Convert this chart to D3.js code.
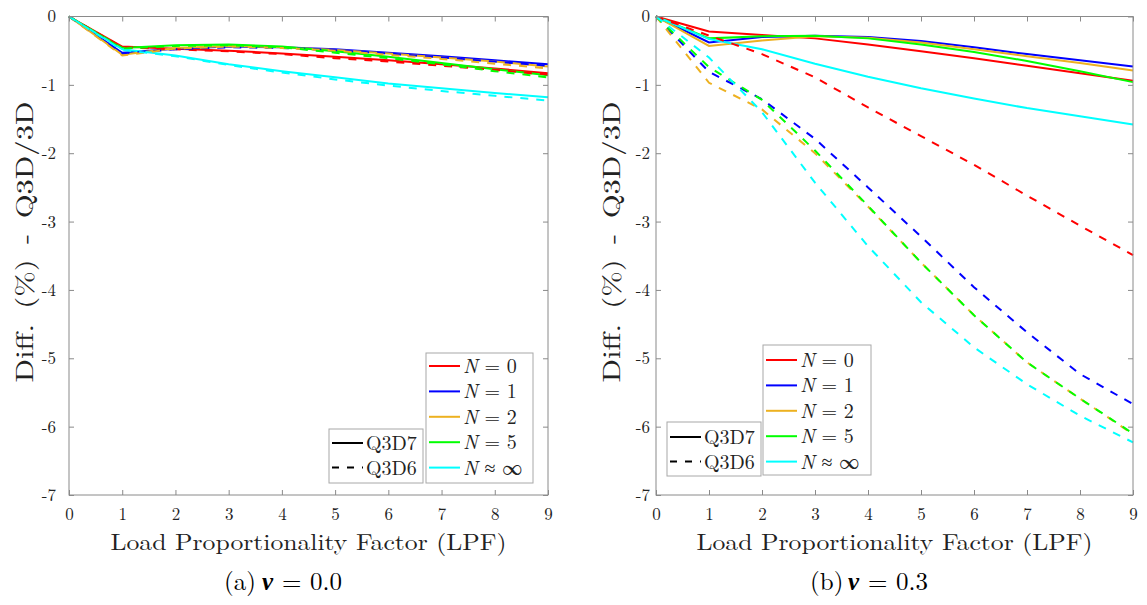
<!DOCTYPE html>
<html><head><meta charset="utf-8">
<script src="https://cdn.jsdelivr.net/npm/d3@7"></script>
<style>body{margin:0;background:#fff}svg{display:block}</style>
</head><body>
<script>
const lpf = [0,1,2,3,4,5,6,7,8,9];
const seriesNames = ["N = 0","N = 1","N = 2","N = 5","N ≈ ∞"];
const seriesColors = ["#ff0000","#0000ff","#edb120","#00ff00","#00ffff"];
const yTicks = [0,-1,-2,-3,-4,-5,-6,-7];
const xTicks = [0,1,2,3,4,5,6,7,8,9];

// (a) nu = 0.0
const a_Q3D7_N0 = [0,-0.44,-0.47,-0.50,-0.54,-0.59,-0.64,-0.70,-0.76,-0.83];
const a_Q3D7_N1 = [0,-0.53,-0.47,-0.44,-0.45,-0.48,-0.53,-0.58,-0.64,-0.70];
const a_Q3D7_N2 = [0,-0.56,-0.46,-0.43,-0.45,-0.49,-0.54,-0.60,-0.66,-0.73];
const a_Q3D7_N5 = [0,-0.46,-0.42,-0.41,-0.44,-0.51,-0.59,-0.68,-0.77,-0.86];
const a_Q3D7_Ninf = [0,-0.48,-0.57,-0.70,-0.80,-0.89,-0.98,-1.05,-1.12,-1.18];
const a_Q3D6_N0 = [0,-0.45,-0.48,-0.51,-0.55,-0.61,-0.66,-0.72,-0.78,-0.85];
const a_Q3D6_N1 = [0,-0.54,-0.48,-0.45,-0.46,-0.49,-0.54,-0.60,-0.66,-0.72];
const a_Q3D6_N2 = [0,-0.57,-0.47,-0.44,-0.46,-0.50,-0.56,-0.62,-0.69,-0.76];
const a_Q3D6_N5 = [0,-0.47,-0.43,-0.42,-0.45,-0.53,-0.61,-0.70,-0.80,-0.89];
const a_Q3D6_Ninf = [0,-0.49,-0.58,-0.71,-0.82,-0.92,-1.01,-1.09,-1.16,-1.23];

// (b) nu = 0.3
const b_Q3D7_N0 = [0,-0.22,-0.27,-0.32,-0.41,-0.51,-0.61,-0.72,-0.83,-0.94];
const b_Q3D7_N1 = [0,-0.38,-0.30,-0.28,-0.30,-0.36,-0.45,-0.55,-0.64,-0.73];
const b_Q3D7_N2 = [0,-0.43,-0.35,-0.29,-0.31,-0.38,-0.48,-0.58,-0.68,-0.79];
const b_Q3D7_N5 = [0,-0.32,-0.29,-0.28,-0.32,-0.41,-0.52,-0.65,-0.80,-0.96];
const b_Q3D7_Ninf = [0,-0.33,-0.48,-0.69,-0.88,-1.05,-1.20,-1.34,-1.46,-1.58];
const b_Q3D6_N0 = [0,-0.28,-0.55,-0.89,-1.33,-1.75,-2.17,-2.62,-3.06,-3.49];
const b_Q3D6_N1 = [0,-0.81,-1.21,-1.79,-2.50,-3.22,-3.96,-4.62,-5.23,-5.67];
const b_Q3D6_N2 = [0,-0.97,-1.36,-2.00,-2.78,-3.60,-4.37,-5.06,-5.59,-6.11];
const b_Q3D6_N5 = [0,-0.74,-1.22,-1.96,-2.77,-3.60,-4.37,-5.06,-5.59,-6.10];
const b_Q3D6_Ninf = [0,-0.60,-1.40,-2.43,-3.36,-4.18,-4.84,-5.38,-5.84,-6.23];

const W = 1147, H = 605;
const svg = d3.select("body").append("svg").attr("width", W).attr("height", H);
const lm = "Latin Modern Roman";

const panels = [
  {x0:69, x1:548, ylabX:33, yPad:13, cap:"(a)", nu:"0.0", capX:284,
   solid:[a_Q3D7_N0,a_Q3D7_N1,a_Q3D7_N2,a_Q3D7_N5,a_Q3D7_Ninf],
   dashed:[a_Q3D6_N0,a_Q3D6_N1,a_Q3D6_N2,a_Q3D6_N5,a_Q3D6_Ninf],
   legN:{x:426,y:353,w:107,h:130,first:366}, legQ:{x:329,y:429,w:94,h:54,first:443}},
  {x0:656, x1:1133, ylabX:620, yPad:6, cap:"(b)", nu:"0.3", capX:870,
   solid:[b_Q3D7_N0,b_Q3D7_N1,b_Q3D7_N2,b_Q3D7_N5,b_Q3D7_Ninf],
   dashed:[b_Q3D6_N0,b_Q3D6_N1,b_Q3D6_N2,b_Q3D6_N5,b_Q3D6_Ninf],
   legN:{x:763,y:345,w:108,h:130,first:360}, legQ:{x:667,y:422,w:94,h:54,first:437}}
];
const yTop = 16.5, yBot = 495, step = 25.4;
const axisColor = "#8a8a8a";
const fmt = d => d === 0 ? "0" : "-" + Math.abs(d);

panels.forEach(p => {
  const x = d3.scaleLinear().domain([0,9]).range([p.x0,p.x1]);
  const y = d3.scaleLinear().domain([-7,0]).range([yBot,yTop]);
  const g = svg.append("g");

  const line = d3.line().x((d,i)=>x(lpf[i])).y(d=>y(d));
  p.solid.forEach((s,i)=>{
    g.append("path").attr("d", line(s)).attr("fill","none")
     .attr("stroke", seriesColors[i]).attr("stroke-width",2);
  });
  p.dashed.forEach((s,i)=>{
    g.append("path").attr("d", line(s)).attr("fill","none")
     .attr("stroke", seriesColors[i]).attr("stroke-width",2)
     .attr("stroke-dasharray","8,8");
  });

  g.append("rect").attr("x",p.x0).attr("y",yTop).attr("width",p.x1-p.x0).attr("height",yBot-yTop)
   .attr("fill","none").attr("stroke",axisColor).attr("stroke-width",1);

  const styleAx = sel => { sel.select(".domain").remove();
    sel.selectAll("line").attr("stroke",axisColor);
    sel.selectAll("text").attr("fill","#222").style("font-family",lm).style("font-size","17px"); };

  g.append("g").attr("transform",`translate(0,${yBot})`)
   .call(d3.axisBottom(x).tickValues(xTicks).tickSizeInner(-5).tickSizeOuter(0).tickPadding(13).tickFormat(d3.format("d")))
   .call(styleAx);
  g.append("g").attr("transform",`translate(0,${yTop})`)
   .call(d3.axisTop(x).tickValues(xTicks).tickSizeInner(-5).tickSizeOuter(0).tickFormat(""))
   .call(styleAx);
  g.append("g").attr("transform",`translate(${p.x0},0)`)
   .call(d3.axisLeft(y).tickValues(yTicks).tickSizeInner(-5).tickSizeOuter(0).tickPadding(p.yPad).tickFormat(fmt))
   .call(styleAx);
  g.append("g").attr("transform",`translate(${p.x1},0)`)
   .call(d3.axisRight(y).tickValues(yTicks).tickSizeInner(-5).tickSizeOuter(0).tickFormat(""))
   .call(styleAx);

  g.append("text").attr("x",(p.x0+p.x1)/2).attr("y",550).attr("text-anchor","middle")
   .style("font-family",lm).style("font-size","23px").attr("fill","#222")
   .attr("textLength",396).attr("lengthAdjust","spacingAndGlyphs")
   .text("Load Proportionality Factor (LPF)");
  g.append("text").attr("transform",`translate(${p.ylabX},242) rotate(-90)`).attr("text-anchor","middle")
   .style("font-family",lm).style("font-size","24px").attr("fill","#222")
   .style("word-spacing","4px")
   .attr("textLength",281).attr("lengthAdjust","spacingAndGlyphs")
   .text("Diff. (%) - Q3D/3D");

  // caption as separate text elements (serif)
  const cx = p.capX - 60;
  const capParts = [
    {t:p.cap, dx:0, it:false},
    {t:"ν", dx:38, it:true},
    {t:"=", dx:58, it:false},
    {t:p.nu, dx:86, it:false}
  ];
  capParts.forEach(c => {
    g.append("text").attr("x",cx + c.dx).attr("y",590)
     .style("font-family",lm).style("font-size","25px")
     .style("font-style", c.it ? "italic" : "normal")
     .style("font-weight", c.it ? "bold" : "normal")
     .attr("fill","#000").text(c.t);
  });

  const L = p.legN;
  g.append("rect").attr("x",L.x).attr("y",L.y).attr("width",L.w).attr("height",L.h)
   .attr("fill","#fff").attr("stroke","#a8a8a8");
  seriesNames.forEach((nm,i)=>{
    const yy = L.first + i*step;
    g.append("line").attr("x1",L.x+3).attr("x2",L.x+34).attr("y1",yy).attr("y2",yy)
     .attr("stroke",seriesColors[i]).attr("stroke-width",2);
    const t = g.append("text").attr("x",L.x+37).attr("y",yy+7)
     .style("font-family",lm).style("font-size","20px").attr("fill","#222");
    t.append("tspan").style("font-style","italic").text("N");
    t.append("tspan").text(nm.slice(1));
  });
  const Q = p.legQ;
  g.append("rect").attr("x",Q.x).attr("y",Q.y).attr("width",Q.w).attr("height",Q.h)
   .attr("fill","#fff").attr("stroke","#a8a8a8");
  ["Q3D7","Q3D6"].forEach((nm,i)=>{
    const yy = Q.first + i*24.5;
    g.append("line").attr("x1",Q.x+3).attr("x2",Q.x+34).attr("y1",yy).attr("y2",yy)
     .attr("stroke","#000").attr("stroke-width",2).attr("stroke-dasharray", i ? "7,8" : null);
    g.append("text").attr("x",Q.x+37).attr("y",yy+7)
     .style("font-family",lm).style("font-size","20px").attr("fill","#222").text(nm);
  });
});
</script>
</body></html>
